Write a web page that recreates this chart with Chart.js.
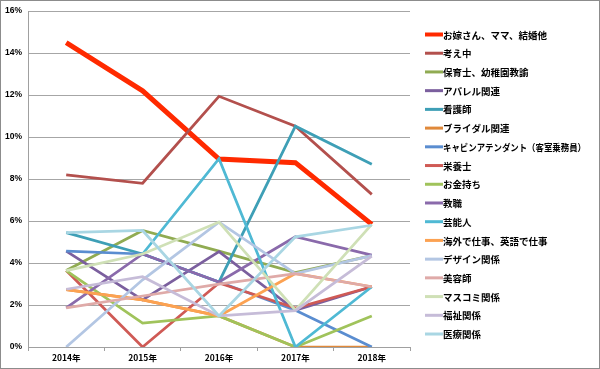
<!DOCTYPE html>
<html><head><meta charset="utf-8">
<script src="https://cdn.jsdelivr.net/npm/chart.js@4.4.1/dist/chart.umd.min.js"></script>
<style>html,body{margin:0;padding:0;background:#fff}#c{display:block}</style>
</head><body>
<div style="width:600px;height:369px"><canvas id="c" width="600" height="369"></canvas></div>
<script>
const years = ["2014年","2015年","2016年","2017年","2018年"];
const seriesNames = ["お嫁さん、ママ、結婚他","考え中","保育士、幼稚園教諭","アパレル関連","看護師","ブライダル関連","キャビンアテンダント（客室乗務員）","栄養士","お金持ち","教職","芸能人","海外で仕事、英語で仕事","デザイン関係","美容師","マスコミ関係","福祉関係","医療関係"];
const yoma   = [14.5, 12.2, 8.95, 8.78, 5.84];
const kangae = [8.2, 7.8, 11.94, 10.52, 7.27];
const hoiku  = [3.64, 5.55, 4.57, 3.54, 4.35];
const apparel= [4.57, 2.24, 4.54, 1.75, 2.87];
const kango  = [5.45, 4.43, 3.1, 10.52, 8.7];
const bridal = [2.73, 2.24, 1.48, 0, 0];
const cabin  = [4.57, 4.43, 3.1, 1.75, 0];
const eiyou  = [3.64, 0, 3.05, 1.86, 2.87];
const okane  = [3.64, 1.14, 1.48, 0, 1.48];
const kyoshoku=[1.86, 4.43, 3.1, 5.25, 4.38];
const geinou = [null, 4.43, 8.97, 0, 2.87];
const kaigai = [2.73, 2.24, 1.48, 3.5, 2.87];
const design = [0, 3.2, 5.95, 3.5, 4.35];
const biyou  = [1.86, 2.43, 3.0, 3.5, 2.87];
const masukomi=[3.64, 4.43, 5.95, 1.75, 5.84];
const fukushi= [2.75, 3.35, 1.48, 1.73, 4.33];
const iryou  = [5.45, 5.55, 1.48, 5.25, 5.8];
const yTicks = [0,2,4,6,8,10,12,14,16];

const values = [yoma,kangae,hoiku,apparel,kango,bridal,cabin,eiyou,okane,kyoshoku,geinou,kaigai,design,biyou,masukomi,fukushi,iryou];
const colors = ["#ff2a00","#b3504d","#90ab52","#7b5f9e","#3e9fb6","#e0893a","#5a8dd0","#cf5a55","#a0c35b","#8a6aab","#4fb9d4","#fca252","#b3c6e3","#dfaaa8","#cfe0b6","#c6bcd8","#a9d6e3"];

const datasets = values.map((v,i)=>({
  label: seriesNames[i], data: v, borderColor: colors[i], backgroundColor: colors[i],
  borderWidth: i===0?5:2.75, pointRadius:0, tension:0, fill:false, order:-i, spanGaps:false
}));

const legendPlugin = {
  id:'customLegend',
  afterDraw(chart){
    const ctx = chart.ctx;
    ctx.save();
    ctx.font = 'bold 9.5px "Noto Sans CJK JP"';
    ctx.textBaseline = 'middle';
    ctx.textAlign = 'left';
    chart.data.datasets.forEach((ds,i)=>{
      const y = 34.5 + i*18.72;
      ctx.strokeStyle = ds.borderColor; ctx.lineWidth = i===0?4:3; ctx.lineCap='butt';
      ctx.beginPath(); ctx.moveTo(425,y); ctx.lineTo(443,y); ctx.stroke();
      ctx.fillStyle = '#000';
      ctx.fillText(ds.label, 443, y+0.5, 143);
    });
    ctx.strokeStyle = '#8c8c8c'; ctx.lineWidth = 1;
    ctx.strokeRect(0.5,0.5,chart.width-1,chart.height-1);
    ctx.restore();
  }
};

new Chart(document.getElementById('c'), {
  type:'line',
  data:{labels:years, datasets},
  options:{
    responsive:false, animation:false, devicePixelRatio:1,
    layout:{padding:{top:11,right:190,left:0,bottom:0}},
    plugins:{legend:{display:false}, tooltip:{enabled:false}},
    scales:{
      x:{
        offset:true,
        grid:{display:true, drawOnChartArea:false, drawTicks:true, tickLength:4, color:'#a0a0a0', offset:true},
        border:{display:true,color:'#a0a0a0'},
        ticks:{color:'#000', font:{family:'"Noto Sans CJK JP"', size:8.5, weight:'bold'}, padding:2, maxRotation:0},
        afterFit(s){ s.height = 22; }
      },
      y:{
        min:0, max:16,
        afterBuildTicks(s){ s.ticks = yTicks.map(v=>({value:v})); },
        grid:{color:'#a6a6a6', drawTicks:false, lineWidth:1},
        border:{display:true,color:'#a0a0a0'},
        ticks:{color:'#000', font:{family:'"Liberation Sans", Arial', size:8.5, weight:'bold'}, padding:6, callback:v=>v+'%'},
        afterFit(s){ s.width = 28; }
      }
    }
  },
  plugins:[legendPlugin]
});
</script>
</body></html>
